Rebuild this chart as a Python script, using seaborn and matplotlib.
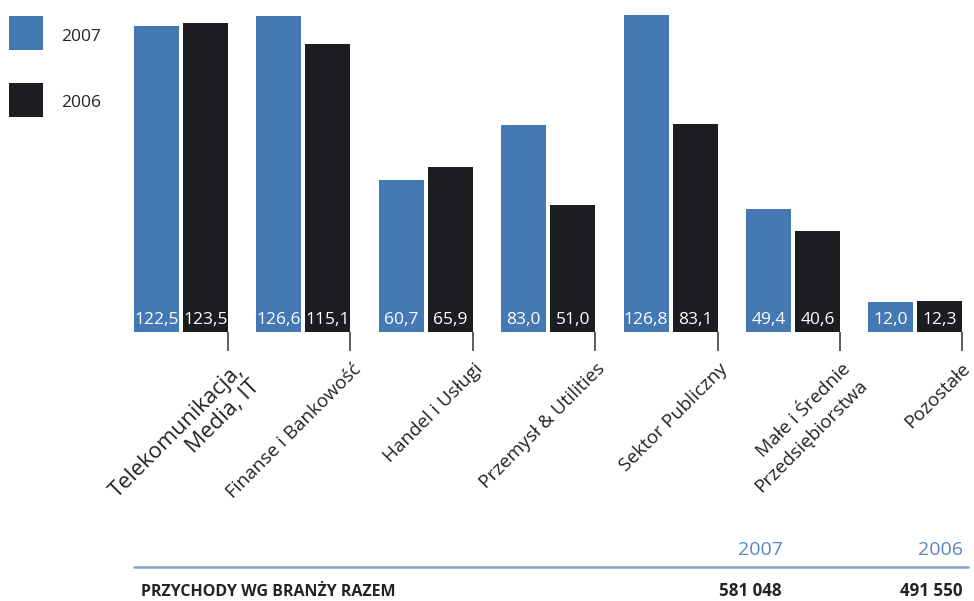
import matplotlib
matplotlib.use("Agg")
import matplotlib.pyplot as plt
import pandas as pd
import seaborn as sns
from matplotlib.patches import Rectangle
from matplotlib.lines import Line2D

# Revenue by industry (mln PLN)
categories = [
    "Telekomunikacja,\nMedia, IT",
    "Finanse i Bankowość",
    "Handel i Usługi",
    "Przemysł & Utilities",
    "Sektor Publiczny",
    "Małe i Średnie\nPrzedsiębiorstwa",
    "Pozostałe",
]
years = ["2007", "2006"]
values_2007 = [122.5, 126.6, 60.7, 83.0, 126.8, 49.4, 12.0]
values_2006 = [123.5, 115.1, 65.9, 51.0, 83.1, 40.6, 12.3]
summary_label = "PRZYCHODY WG BRANŻY RAZEM"
totals = ["581 048", "491 550"]

BLUE = "#4479b4"
BLACK = "#1c1d21"
TEXT = "#222326"
YEAR_BLUE = "#5886be"
RULE_BLUE = "#80a4cf"

df = pd.DataFrame({
    "branza": categories * 2,
    "rok": [years[0]] * len(categories) + [years[1]] * len(categories),
    "przychody": values_2007 + values_2006,
})

sns.set_theme(style="white")
plt.rcParams["font.family"] = ["Open Sans", "DejaVu Sans"]

W, H = 974, 601
fig = plt.figure(figsize=(W / 100, H / 100), dpi=100)


def fx(px):
    return px / W


def fy(py):
    return 1 - py / H


ax = fig.add_axes([fx(125.9), fy(332), 844.6 / W, 325 / H])
sns.barplot(
    data=df, x="branza", y="przychody", hue="rok",
    order=categories, hue_order=years, palette=[BLUE, BLACK],
    width=0.8, gap=0.08, saturation=1, errorbar=None, legend=False,
    linewidth=0, edgecolor="none", ax=ax,
)
ax.set_xlim(-0.45, 6.45)
ax.set_ylim(0, 130)
ax.set_xlabel("")
ax.set_ylabel("")
sns.despine(ax=ax, left=True, bottom=True)

# value labels sitting at the foot of every bar
for container in ax.containers:
    for bar in container:
        v = bar.get_height()
        ax.annotate(
            f"{v:.1f}".replace(".", ","),
            (bar.get_x() + bar.get_width() / 2, 0),
            xytext=(0, 5.5), textcoords="offset points",
            ha="center", va="baseline", color="white", fontsize=12.5,
        )

# tick marks at the right edge of each group
tick_pos = [b.get_x() + b.get_width() for b in ax.containers[-1]]
ax.set_xticks(tick_pos)
ax.set_xticklabels([])
ax.tick_params(axis="x", bottom=True, labelbottom=False, length=13.7,
               width=1.1, color="#333333", direction="out")
ax.tick_params(axis="y", left=False, labelleft=False)

label_size = [16.0, 13.6, 13.6, 13.6, 13.6, 13.6, 13.6]
label_dx = [3.5, 0.8, 0.8, 0.8, 0.8, 0.8, -0.8]
label_spacing = [1.1, 1.1, 1.1, 1.1, 1.1, 1.4, 1.1]
for xp, name, fs, dx, ls in zip(tick_pos, categories, label_size, label_dx, label_spacing):
    ax.annotate(
        name, (xp, 0), xytext=(dx, -20), textcoords="offset points",
        rotation=45, rotation_mode="anchor", ha="right", va="top",
        multialignment="right", fontsize=fs,
        color=TEXT, annotation_clip=False, linespacing=ls,
    )

# legend squares
fig.add_artist(Rectangle((fx(9), fy(50)), 34 / W, 34 / H,
                         transform=fig.transFigure, color=BLUE, lw=0))
fig.add_artist(Rectangle((fx(9), fy(117)), 34 / W, 34 / H,
                         transform=fig.transFigure, color=BLACK, lw=0))
fig.text(fx(61), fy(41), years[0], ha="left", va="baseline", fontsize=12.5, color=TEXT)
fig.text(fx(61), fy(107), years[1], ha="left", va="baseline", fontsize=12.5, color=TEXT)

# summary table under the chart
fig.text(fx(783), fy(555), years[0], ha="right", va="baseline", fontsize=14, color=YEAR_BLUE)
fig.text(fx(963), fy(555), years[1], ha="right", va="baseline", fontsize=14, color=YEAR_BLUE)
fig.add_artist(Line2D([fx(134), fx(968)], [fy(567), fy(567)],
                      transform=fig.transFigure, color=RULE_BLUE, lw=1.8))
fig.text(fx(141), fy(596), summary_label, ha="left", va="baseline",
         fontsize=11.5, fontweight="bold", color=TEXT)
fig.text(fx(782), fy(596), totals[0], ha="right", va="baseline",
         fontsize=12.2, fontweight="bold", color=TEXT)
fig.text(fx(963), fy(596), totals[1], ha="right", va="baseline",
         fontsize=12.2, fontweight="bold", color=TEXT)

fig.savefig("out.png", dpi=100)
